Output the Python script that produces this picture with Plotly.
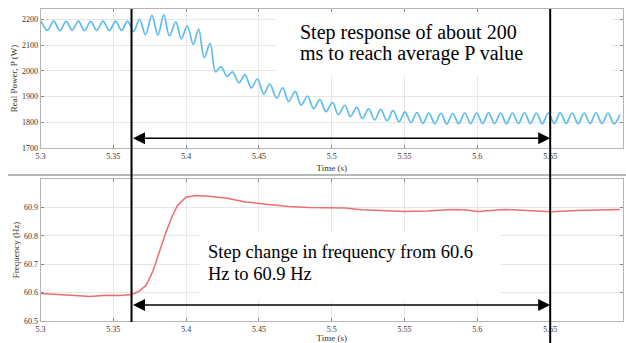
import plotly.graph_objects as go

# ---------------- data ----------------
# Real power: alternating peaks / troughs of the ripple (time in s, P in W)
t_power = [5.3005, 5.3048, 5.3090, 5.3133, 5.3176, 5.3217, 5.3260, 5.3302, 5.3345, 5.3386,
           5.3429, 5.3473, 5.3516, 5.3557, 5.3598, 5.3639, 5.3680, 5.3721, 5.3765, 5.3806,
           5.3847, 5.3885, 5.3929, 5.3967, 5.4008, 5.4049, 5.4086, 5.4124, 5.4165, 5.4202,
           5.4240, 5.4281, 5.4318, 5.4363, 5.4404, 5.4448, 5.4489, 5.4533, 5.4574, 5.4622,
           5.4663, 5.4704, 5.4749, 5.4790, 5.4834, 5.4875, 5.4919, 5.4960, 5.5005, 5.5046,
           5.5090, 5.5128, 5.5172, 5.5210, 5.5254, 5.5295, 5.5336, 5.5380, 5.5421, 5.5462,
           5.5503, 5.5544, 5.5585, 5.5626, 5.5667, 5.5708, 5.5749, 5.5790, 5.5831, 5.5872,
           5.5913, 5.5954, 5.5995, 5.6036, 5.6077, 5.6118, 5.6159, 5.6200, 5.6241, 5.6282,
           5.6323, 5.6364, 5.6405, 5.6446, 5.6487, 5.6528, 5.6569, 5.6610, 5.6651, 5.6692,
           5.6733, 5.6774, 5.6815, 5.6856, 5.6897, 5.6938, 5.6979]
p_power = [2193, 2157, 2193, 2156, 2192, 2157, 2193, 2156, 2192, 2157,
           2193, 2156, 2192, 2157, 2193, 2152, 2200, 2140, 2215, 2138,
           2217, 2136, 2190, 2124, 2175, 2102, 2162, 2051, 2107, 1996,
           2016, 1978, 1996, 1953, 1985, 1933, 1968, 1910, 1948, 1894,
           1934, 1880, 1920, 1866, 1902, 1853, 1888, 1841, 1876, 1830,
           1866, 1822, 1858, 1815, 1852, 1809, 1850, 1806, 1845, 1802,
           1840, 1799, 1838, 1796, 1836, 1794, 1835, 1793, 1834, 1794,
           1836, 1795, 1836, 1795, 1837, 1795, 1836, 1794, 1836, 1795,
           1837, 1795, 1836, 1794, 1836, 1795, 1837, 1795, 1836, 1794,
           1836, 1795, 1837, 1795, 1836, 1794, 1830]

# Frequency (time in s, f in Hz)
t_freq = [5.3000, 5.3133, 5.3236, 5.3338, 5.3452, 5.3543, 5.3611, 5.3645, 5.3680, 5.3725,
          5.3770, 5.3816, 5.3862, 5.3907, 5.3941, 5.3999, 5.4067, 5.4135, 5.4272, 5.4408,
          5.4590, 5.4704, 5.4841, 5.5000, 5.5091, 5.5205, 5.5353, 5.5501, 5.5660, 5.5820,
          5.5911, 5.6002, 5.6184, 5.6321, 5.6503, 5.6685, 5.6913, 5.6979]
f_freq = [60.597, 60.594, 60.590, 60.586, 60.591, 60.590, 60.592, 60.597, 60.606, 60.626,
          60.673, 60.743, 60.813, 60.872, 60.907, 60.936, 60.942, 60.940, 60.933, 60.919,
          60.909, 60.903, 60.900, 60.898, 60.898, 60.892, 60.889, 60.886, 60.887, 60.893,
          60.892, 60.886, 60.893, 60.889, 60.885, 60.889, 60.893, 60.893]

x_ticks = [5.3, 5.35, 5.4, 5.45, 5.5, 5.55, 5.6, 5.65]
p_ticks = [1700, 1800, 1900, 2000, 2100, 2200]
f_ticks = [60.5, 60.6, 60.7, 60.8, 60.9]

t_step_start = 5.3625
t_step_end = 5.65

top_text_lines = ["Step response of about 200", "ms to reach average P value"]
bot_text_lines = ["Step change in frequency from 60.6", "Hz to 60.9 Hz"]

# ---------------- figure ----------------
W, H = 626, 343
SERIF = "'Liberation Serif', 'Times New Roman', Times, 'DejaVu Serif', serif"

fig = go.Figure()
fig.add_trace(go.Scatter(x=t_power, y=p_power, xaxis="x", yaxis="y", mode="lines",
                         line=dict(color="#5DBDEE", width=1.7, shape="spline", smoothing=1.0),
                         showlegend=False, hoverinfo="skip"))
fig.add_trace(go.Scatter(x=t_freq, y=f_freq, xaxis="x2", yaxis="y2", mode="lines",
                         line=dict(color="#EC6E6E", width=1.5),
                         showlegend=False, hoverinfo="skip"))

xdom = [40.5 / W, 623 / W]
top_dom = [1 - 148 / H, 1 - 9 / H]
bot_dom = [1 - 321 / H, 1 - 179 / H]

axis_common = dict(showgrid=True, gridcolor="#e6e6e6", gridwidth=1,
                   showline=True, linecolor="#b5b5b5", linewidth=1, mirror="ticks",
                   ticks="inside", ticklen=3, tickcolor="#888888",
                   tickfont=dict(family=SERIF, size=8, color="#333333"),
                   zeroline=False, automargin=False)

fig.update_layout(
    width=W, height=H, margin=dict(l=0, r=0, t=0, b=0),
    paper_bgcolor="white", plot_bgcolor="white",
    font=dict(family=SERIF),
    xaxis=dict(domain=xdom, anchor="y", range=[5.3, 5.7], tickvals=x_ticks,
               title=dict(text="Time (s)", font=dict(family=SERIF, size=9, color="#333333"), standoff=5),
               **axis_common),
    yaxis=dict(domain=top_dom, anchor="x", range=[1700, 2240], tickvals=p_ticks,
               title=dict(text="Real Power, P (W)", font=dict(family=SERIF, size=9, color="#333333"), standoff=2),
               **axis_common),
    xaxis2=dict(domain=xdom, anchor="y2", range=[5.3, 5.7], tickvals=x_ticks,
                title=dict(text="Time (s)", font=dict(family=SERIF, size=9, color="#333333"), standoff=0),
                **axis_common),
    yaxis2=dict(domain=bot_dom, anchor="x2", range=[60.5, 61.0], tickvals=f_ticks,
                title=dict(text="Frequency (Hz)", font=dict(family=SERIF, size=9, color="#333333"), standoff=2),
                **axis_common),
)

shapes = []
# white boxes behind the annotation texts
shapes.append(dict(type="rect", xref="x", yref="y", x0=5.462, x1=5.692, y0=1979, y1=2240,
                   fillcolor="white", line=dict(width=0), layer="between"))
shapes.append(dict(type="rect", xref="x2", yref="y2", x0=5.409, x1=5.616, y0=60.57, y1=60.81,
                   fillcolor="white", line=dict(width=0), layer="between"))
# separator between the two panels
shapes.append(dict(type="line", xref="paper", yref="paper", x0=8 / W, x1=1, y0=1 - 175 / H, y1=1 - 175 / H,
                   line=dict(color="#b8b8b8", width=2)))
# vertical markers
shapes.append(dict(type="line", xref="x", yref="paper", x0=t_step_start, x1=t_step_start,
                   y0=1 - 322 / H, y1=1 - 9 / H, line=dict(color="black", width=2)))
shapes.append(dict(type="line", xref="x", yref="paper", x0=t_step_end, x1=t_step_end,
                   y0=0, y1=1 - 9 / H, line=dict(color="black", width=2)))
fig.update_layout(shapes=shapes)

annotations = []
# double-headed arrows
for xr, yr, yv in [("x", "y", 1738), ("x2", "y2", 60.556)]:
    annotations.append(dict(x=t_step_end, y=yv, xref=xr, yref=yr, ax=t_step_start, ay=yv,
                            axref=xr, ayref=yr, text="", showarrow=True, arrowside="end+start",
                            arrowhead=2, arrowsize=1.6, arrowwidth=1.5, arrowcolor="black",
                            standoff=0, startstandoff=0))
for line_text, ypx in zip(top_text_lines, [32, 53]):
    annotations.append(dict(x=298 / W, y=1 - ypx / H, xref="paper", yref="paper", xanchor="left",
                            yanchor="middle", align="left", showarrow=False, text=line_text,
                            font=dict(family=SERIF, size=20, color="black")))
for line_text, ypx in zip(bot_text_lines, [252, 274]):
    annotations.append(dict(x=206 / W, y=1 - ypx / H, xref="paper", yref="paper", xanchor="left",
                            yanchor="middle", align="left", showarrow=False, text=line_text,
                            font=dict(family=SERIF, size=18.5, color="black")))
fig.update_layout(annotations=annotations)

fig.write_html("out.html")
